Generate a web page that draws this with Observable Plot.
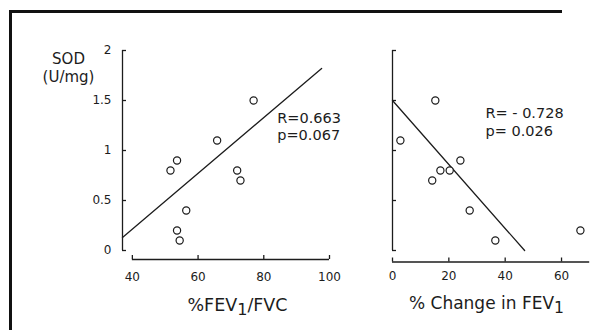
<!DOCTYPE html>
<html><head><meta charset="utf-8">
<script src="https://cdn.jsdelivr.net/npm/d3@7"></script>
<script src="https://cdn.jsdelivr.net/npm/@observablehq/plot@0.6"></script>
<style>
html,body{margin:0;padding:0;background:#fff;overflow:hidden;}
#wrap{position:relative;width:614px;height:330px;overflow:hidden;background:#fff;}
#wrap svg{position:absolute;left:0;top:0;}
</style></head><body><div id="wrap"><svg width="614" height="330"><path d="M10.5,340V11.5H562" fill="none" stroke="#111" stroke-width="3"/></svg></div>
<script>
// ---- data ----
const fevRatio  = [51.6, 53.6, 65.8, 76.9, 71.9, 72.9, 56.4, 53.6, 54.4];
const sodLeft   = [0.8, 0.9, 1.1, 1.5, 0.8, 0.7, 0.4, 0.2, 0.1];
const fevChange = [15.2, 2.8, 24.1, 17.0, 20.3, 14.1, 27.4, 36.5, 66.7];
const sodRight  = [1.5, 1.1, 0.9, 0.8, 0.8, 0.7, 0.4, 0.1, 0.2];
const leftFitX  = [37, 97.6];
const leftFitY  = [0.13, 1.82];
const rightFitX = [0, 46.9];
const rightFitY = [1.5, 0];
const yTicks = [0, 0.5, 1, 1.5, 2];
const yTickLabels = ["0", "0.5", "1", "1.5", "2"];
const leftXTicks = [40, 60, 80, 100];
const rightXTicks = [0, 20, 40, 60];
const leftStats = ["R=0.663", "p=0.067"];
const rightStats = ["R= - 0.728", "p= 0.026"];
const yTitle = ["SOD", "(U/mg)"];
const leftXTitle = "%FEV1/FVC";
const rightXTitle = "% Change in FEV1";

const font = '"DejaVu Sans", Verdana, sans-serif';
const ink = "#1c1c1c";
const style = {fontFamily: font, fontSize: "12px", color: ink, background: "transparent", overflow: "visible"};

const left = Plot.plot({
  width: 614, height: 330,
  marginLeft: 122, marginRight: 285, marginTop: 50, marginBottom: 71,
  x: {domain: [37, 100]},
  y: {domain: [-0.09, 2]},
  style,
  marks: [
    Plot.ruleX([37], {y1: 0, y2: 2, stroke: ink, strokeWidth: 1.3}),
    Plot.ruleY([-0.09], {x1: 40, x2: 100, stroke: ink, strokeWidth: 1.3}),
    Plot.axisY(yTicks, {anchor: "left", tickSize: -4, tickPadding: 15, strokeWidth: 1.3,
      tickFormat: d => yTickLabels[yTicks.indexOf(d)], label: null}),
    Plot.axisX(leftXTicks, {anchor: "bottom", tickSize: -4, tickPadding: 16.5, strokeWidth: 1.3,
      tickFormat: d => String(d), label: null}),
    Plot.line(leftFitX, {x: leftFitX, y: leftFitY, stroke: ink, strokeWidth: 1.3}),
    Plot.dot(sodLeft, {x: fevRatio, y: sodLeft, r: 3.6, stroke: ink, strokeWidth: 1.2, fill: "white"}),
    Plot.text([leftStats.join("\n")], {x: 84.1, y: 1.2415, textAnchor: "start", fontSize: 14.5, lineHeight: 1.12, fill: ink}),
    Plot.text([yTitle.join("\n")], {frameAnchor: "top-left", dx: -54, dy: 17, textAnchor: "middle", lineAnchor: "middle", fontSize: 15, lineHeight: 1.2, fill: ink}),
    Plot.text([leftXTitle], {frameAnchor: "bottom-left", dx: 115, dy: 51.5, textAnchor: "middle", lineAnchor: "bottom", fontSize: 17.5, fill: ink})
  ]
});

const right = Plot.plot({
  width: 614, height: 330,
  marginLeft: 392, marginRight: 24.8, marginTop: 50, marginBottom: 68.5,
  x: {domain: [0, 70]},
  y: {domain: [-0.115, 2]},
  style,
  marks: [
    Plot.ruleX([0], {y1: 0, y2: 2, stroke: ink, strokeWidth: 1.3}),
    Plot.ruleY([-0.115], {x1: 0, x2: 70, stroke: ink, strokeWidth: 1.3}),
    Plot.axisY(yTicks, {anchor: "left", tickSize: -4, strokeWidth: 1.3, tickFormat: () => "", label: null}),
    Plot.axisX(rightXTicks, {anchor: "bottom", tickSize: -4, tickPadding: 13.5, strokeWidth: 1.3,
      tickFormat: d => String(d), label: null}),
    Plot.line(rightFitX, {x: rightFitX, y: rightFitY, stroke: ink, strokeWidth: 1.3}),
    Plot.dot(sodRight, {x: fevChange, y: sodRight, r: 3.6, stroke: ink, strokeWidth: 1.2, fill: "white"}),
    Plot.text([rightStats.join("\n")], {x: 33.0, y: 1.2915, textAnchor: "start", fontSize: 14.5, lineHeight: 1.22, fill: ink}),
    Plot.text([rightXTitle], {frameAnchor: "bottom-left", dx: 94, dy: 47, textAnchor: "middle", lineAnchor: "bottom", fontSize: 17, fill: ink})
  ]
});

function subscriptOne(svg, full) {
  d3.select(svg).selectAll("text").filter(function() { return this.textContent === full; }).each(function() {
    const idx = full.indexOf("1");
    const before = full.slice(0, idx), after = full.slice(idx + 1);
    const t = d3.select(this);
    t.text(null);
    t.append("tspan").text(before);
    t.append("tspan").attr("dy", 4).attr("font-size", "0.92em").text("1");
    if (after) t.append("tspan").attr("dy", -4).text(after);
  });
}
subscriptOne(left, leftXTitle);
subscriptOne(right, rightXTitle);

const wrap = document.getElementById("wrap");
wrap.appendChild(left);
wrap.appendChild(right);
</script>
</body></html>
